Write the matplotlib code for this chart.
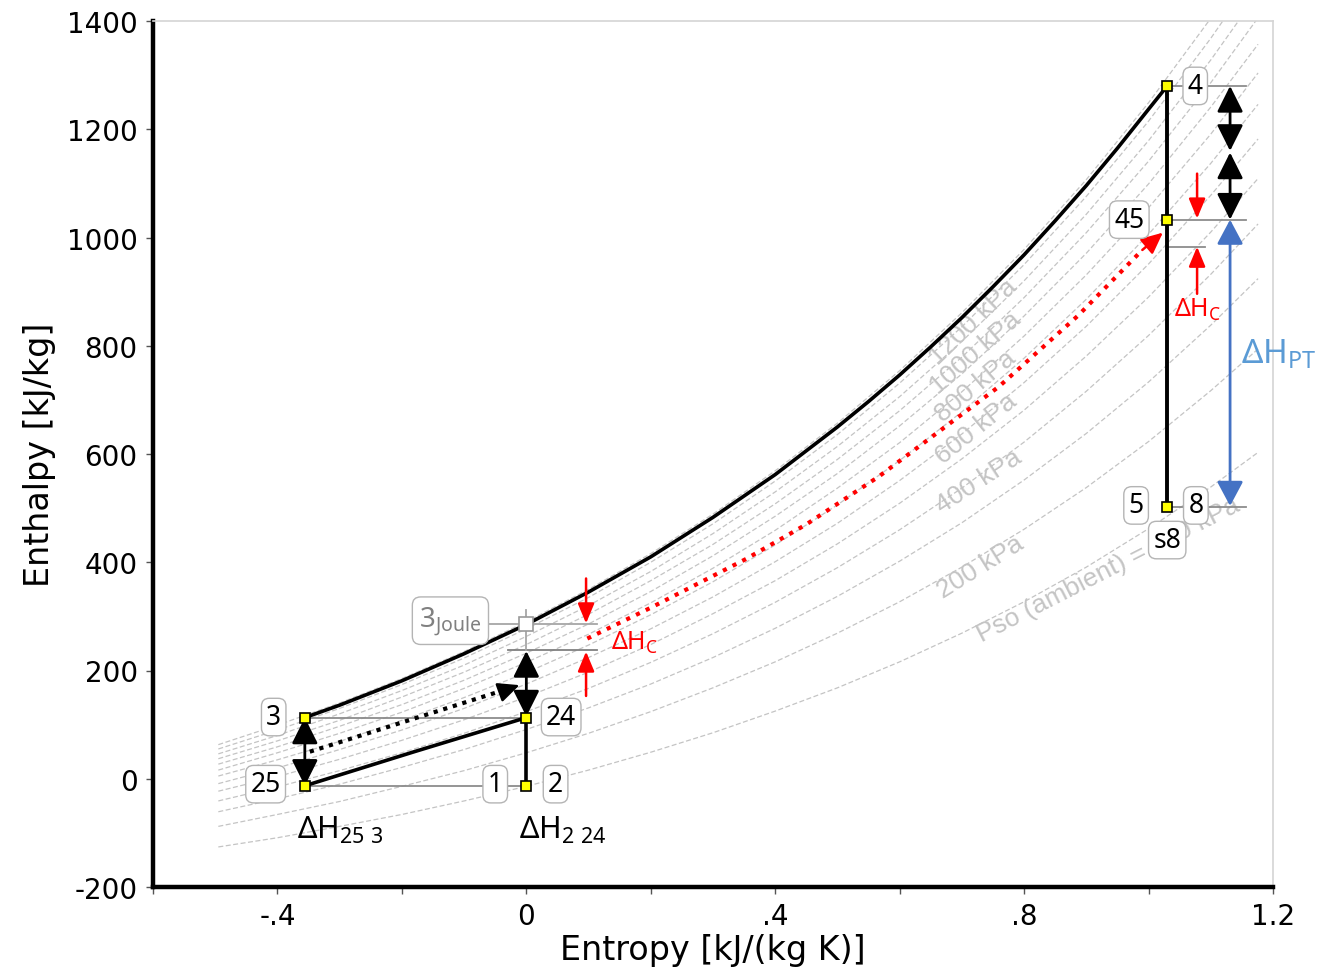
import matplotlib
matplotlib.use('Agg')
import matplotlib.pyplot as plt
from matplotlib.patches import FancyArrowPatch

plt.rcParams['mathtext.fontset'] = 'custom'
plt.rcParams['mathtext.rm'] = 'Noto Sans'
plt.rcParams['mathtext.it'] = 'Noto Sans'

# ---------------- data ----------------
# background isobars: enthalpy [kJ/kg] at common entropy stations [kJ/(kg K)]
isobar_kpa = [1300, 1200, 1100, 1000, 900, 800, 700, 600, 500, 400, 300, 200, 100]
isobar_s = [-0.495, -0.4, -0.3, -0.2, -0.1, 0.0, 0.1, 0.2, 0.3, 0.4, 0.5, 0.6,
            0.7, 0.8, 0.9, 1.0, 1.1, 1.176]
isobar_h = [
    [63, 99, 140, 185, 235, 290, 350, 416, 489, 569, 657, 754, 861, 978, 1107, 1249, 1405, 1534],
    [55, 90, 130, 174, 223, 277, 335, 400, 471, 550, 636, 731, 835, 950, 1076, 1215, 1368, 1494],
    [46, 80, 120, 163, 210, 263, 320, 383, 453, 530, 614, 706, 808, 920, 1043, 1179, 1328, 1451],
    [37, 70, 108, 151, 197, 248, 304, 366, 433, 508, 590, 680, 779, 889, 1009, 1141, 1286, 1406],
    [27, 59, 97, 137, 182, 232, 286, 346, 412, 485, 564, 652, 748, 855, 971, 1099, 1241, 1357],
    [16, 48, 84, 123, 167, 215, 267, 325, 389, 459, 537, 621, 715, 818, 931, 1055, 1191, 1304],
    [5, 35, 69, 108, 150, 196, 247, 303, 364, 432, 506, 588, 678, 777, 886, 1006, 1137, 1246],
    [-9, 20, 54, 90, 130, 175, 224, 277, 336, 401, 472, 551, 637, 732, 836, 951, 1078, 1182],
    [-23, 4, 36, 71, 109, 151, 197, 248, 305, 366, 434, 509, 591, 681, 781, 890, 1010, 1109],
    [-41, -15, 15, 48, 84, 124, 167, 215, 268, 326, 390, 460, 537, 622, 716, 819, 932, 1025],
    [-61, -37, -10, 21, 54, 91, 131, 175, 224, 278, 337, 402, 473, 552, 638, 733, 838, 924],
    [-88, -66, -42, -14, 15, 48, 84, 124, 168, 216, 269, 327, 391, 461, 538, 623, 717, 794],
    [-126, -109, -88, -66, -41, -14, 16, 49, 85, 125, 168, 216, 269, 327, 391, 462, 539, 603],
]

# thick cycle curve 3 -> 4
top_s = [-0.356, -0.3, -0.2, -0.1, 0.0, 0.1, 0.2, 0.3, 0.4, 0.5, 0.55, 0.6, 0.65, 0.7,
         0.75, 0.8, 0.85, 0.9, 0.95, 1.0, 1.03]
top_h = [113, 136, 181, 231, 285, 345, 410, 483, 562, 650, 697, 746, 798, 852,
         909, 968, 1031, 1096, 1165, 1237, 1280]
# thick curve 25 -> 24
low_s = [-0.356, -0.18, 0.0]
low_h = [-13, 50, 113]
# red dotted path towards 45
red_s = [0.098, 0.2, 0.353, 0.45, 0.566, 0.759, 0.887, 0.99]
red_h = [259, 316, 406, 470, 558, 724, 856, 977]
# black dotted path
dot_s = [-0.348, -0.03]
dot_h = [50, 166]

# state points
pts_s = [1.03, 1.03, 1.03, -0.356, -0.356, 0.0, 0.0]
pts_h = [1280, 1033, 502, 113, -13, 113, -13]
joule_s, joule_h = 0.0, 285

box_txt = ['4', '45', '5', '8', 's8', '3', '25', '24', '1', '2']
box_s = [1.075, 0.969, 0.98, 1.076, 1.03, -0.406, -0.419, 0.056, -0.05, 0.047]
box_h = [1280, 1033, 505, 505, 441, 114, -10, 114, -10, -10]

iso_lbl = ['1200 kPa', '1000 kPa', '800 kPa', '600 kPa', '400 kPa', '200 kPa',
           'Pso (ambient) = 100 kPa']
iso_lbl_s = [0.718, 0.722, 0.722, 0.723, 0.727, 0.73, 0.935]
iso_lbl_h = [845, 789, 726, 647, 551, 392, 388]
iso_lbl_rot = [44, 41, 40, 39, 33, 32, 27]

x_ticks = [-0.6, -0.4, -0.2, 0.0, 0.2, 0.4, 0.6, 0.8, 1.0, 1.2]
x_labels = ['', '-.4', '', '0', '', '.4', '', '.8', '', '1.2']
y_ticks = [-200, 0, 200, 400, 600, 800, 1000, 1200, 1400]

# ---------------- figure ----------------
W, H = 1319, 978
fig = plt.figure(figsize=(W/100, H/100), dpi=100)
ax = fig.add_axes([153/W, 1-888/H, (1273-153)/W, (888-22)/H])
ax.set_xlim(-0.6, 1.2)
ax.set_ylim(-200, 1400)

for row in isobar_h:
    ax.plot(isobar_s, row, color='#c4c4c4', lw=0.9, ls=(0, (4, 2)), zorder=1)

ax.plot(top_s, top_h, color='black', lw=2.6, zorder=4, solid_capstyle='round', solid_joinstyle='round')
ax.plot(low_s, low_h, color='black', lw=2.6, zorder=4)

gray = '#8c8c8c'
def hline(y, x0, x1, c=gray, lw=1.3):
    ax.plot([x0, x1], [y, y], color=c, lw=lw, zorder=3)
hline(113, -0.356, 0.0)
hline(-13, -0.356, 0.0)
hline(285, -0.06, 0.113, c='#a6a6a6')
hline(237, -0.03, 0.113, c='#808080')
hline(1280, 1.03, 1.157)
hline(1033, 1.03, 1.157)
hline(983, 1.03, 1.09)
hline(502, 1.03, 1.157)
ax.plot([0, 0], [237, 312], color='#a6a6a6', lw=1.3, zorder=3)

ax.plot([1.03, 1.03], [1280, 502], color='black', lw=2.8, zorder=4)
ax.plot([0, 0], [-13, 113], color='black', lw=2.6, zorder=4)

ax.plot(dot_s, dot_h, color='black', lw=3, ls=(0, (1, 1.4)), zorder=4)
ax.plot(red_s, red_h, color='red', lw=3, ls=(0, (1, 1.6)), zorder=4)

def arrow(p0, p1, style, color, hl, hw, lw=1.8):
    a = FancyArrowPatch(p0, p1, arrowstyle=f'{style},head_length={hl},head_width={hw}',
                        color=color, lw=lw, shrinkA=0, shrinkB=0, zorder=6, mutation_scale=1)
    ax.add_patch(a)

arrow((-0.04, 161), (-0.011, 173), '-|>', 'black', 13, 6)
arrow((0.99, 977), (1.023, 1009), '-|>', 'red', 13, 6)

arrow((-0.356, 113), (-0.356, -13), '<|-|>', 'black', 16, 8, 2)
arrow((0.0, 115), (0.0, 236), '<|-|>', 'black', 16, 8, 2)
arrow((1.131, 1280), (1.131, 1160), '<|-|>', 'black', 16, 8, 2)
arrow((1.131, 1157), (1.131, 1033), '<|-|>', 'black', 16, 8, 2)
arrow((1.131, 1033), (1.131, 504), '<|-|>', '#4472c4', 15, 8, 2)
arrow((1.078, 1118), (1.078, 1035), '-|>', 'red', 12, 5, 1.8)
arrow((1.078, 896), (1.078, 983), '-|>', 'red', 12, 5, 1.8)
arrow((0.096, 370), (0.096, 287), '-|>', 'red', 12, 5, 1.8)
arrow((0.096, 153), (0.096, 235), '-|>', 'red', 12, 5, 1.8)

ax.plot(pts_s, pts_h, ls='none', marker='s', ms=7.5, mfc='#ffff00', mec='black', mew=1.2, zorder=7)
ax.plot([joule_s], [joule_h], ls='none', marker='s', ms=10, mfc='white', mec='#9a9a9a', mew=1.2, zorder=7)

for t, x, y in zip(box_txt, box_s, box_h):
    ax.text(x, y, t, ha='center', va='center', fontsize=19, family='Noto Sans', zorder=8,
            bbox=dict(boxstyle='round,pad=0.18,rounding_size=0.3', fc='white', ec='#b4b4b4', lw=1))
ax.text(-0.122, 292, r'$\mathrm{3_{Joule}}$', ha='center', va='center', fontsize=20, color='#808080', zorder=8,
        bbox=dict(boxstyle='round,pad=0.25,rounding_size=0.3', fc='white', ec='#b4b4b4', lw=1))

for t, x, y, r in zip(iso_lbl, iso_lbl_s, iso_lbl_h, iso_lbl_rot):
    ax.text(x, y, t, ha='center', va='center', rotation=r, rotation_mode='anchor', fontsize=19,
            color='#c4c4c4', family='Liberation Sans', zorder=2)

ax.text(1.148, 786, r'$\mathrm{\Delta H_{PT}}$', color='#5b9bd5', fontsize=24, ha='left', va='center', clip_on=False)
ax.text(1.079, 869, r'$\mathrm{\Delta H_{C}}$', color='red', fontsize=18, ha='center', va='center')
ax.text(0.136, 253, r'$\mathrm{\Delta H_{C}}$', color='red', fontsize=18, ha='left', va='center')
ax.text(-0.369, -94, r'$\mathrm{\Delta H_{25\ 3}}$', color='black', fontsize=22, ha='left', va='center')
ax.text(-0.011, -94, r'$\mathrm{\Delta H_{2\ 24}}$', color='black', fontsize=22, ha='left', va='center')

for side in ['left', 'bottom']:
    ax.spines[side].set_linewidth(3.2)
    ax.spines[side].set_color('black')
for side in ['top', 'right']:
    ax.spines[side].set_linewidth(1.2)
    ax.spines[side].set_color('#d4d4d4')
ax.set_xticks(x_ticks)
ax.set_xticklabels(x_labels)
ax.set_yticks(y_ticks)
ax.set_yticklabels([str(v) for v in y_ticks])
ax.tick_params(direction='out', length=5, width=1, color='#555555', labelsize=20, pad=6)
ax.set_xlabel('Entropy [kJ/(kg K)]', fontsize=24, labelpad=2)
ax.set_ylabel('Enthalpy [kJ/kg]', fontsize=24, labelpad=8)

fig.savefig('out.png', dpi=100)
